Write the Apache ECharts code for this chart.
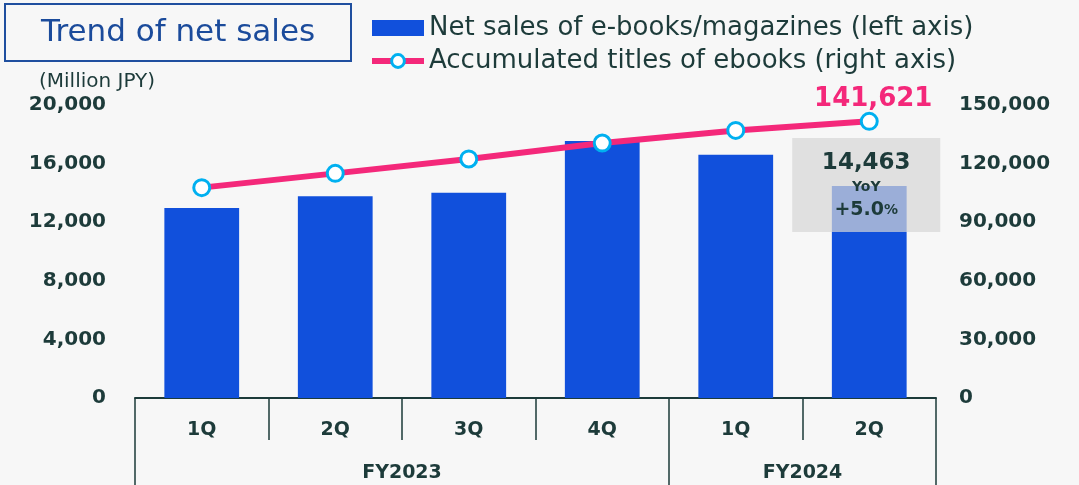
<!DOCTYPE html>
<html>
<head>
<meta charset="utf-8">
<script src="https://cdn.jsdelivr.net/npm/echarts@6/dist/echarts.min.js"></script>
<style>
  html, body { margin: 0; padding: 0; background: #f7f7f7; }
  #main { width: 1079px; height: 485px; }
</style>
</head>
<body>
<div id="main"></div>
<script>
const quarters = ['1Q', '2Q', '3Q', '4Q', '1Q', '2Q'];
const fiscalYears = ['FY2023', 'FY2024'];
const fyQuarterCounts = [4, 2];
const netSales = [12970, 13770, 14010, 17540, 16610, 14463];
const accumulatedTitles = [107700, 115000, 122400, 130500, 137000, 141621];
const yoyLabel = '+5.0';

const dark = '#1d3b3a';
const pink = '#f4287a';
const fontFamily = 'DejaVu Sans';
const fmt = v => Number(v).toLocaleString('en-US');

// second-level axis: half-slot points, label at group centers, ticks at group edges
const fyData = new Array(quarters.length * 2 + 1).fill('');
const fyTicks = [0];
let pos = 0;
fiscalYears.forEach((fy, i) => {
  fyData[pos * 2 + fyQuarterCounts[i]] = fy;
  pos += fyQuarterCounts[i];
  fyTicks.push(pos * 2);
});

const last = netSales.length - 1;
const barData = netSales.map((v, i) => i !== last ? v : {
  value: v,
  label: {
    show: true,
    position: 'top',
    distance: 0,
    offset: [-3, 46],
    width: 148,
    padding: [11, 0, 9, 0],
    align: 'center',
    backgroundColor: 'rgba(214,214,214,0.7)',
    formatter: p => '{a|' + fmt(p.value) + '}\n{b|YoY}\n{c|' + yoyLabel + '}{d|%}',
    rich: {
      a: { fontFamily, fontWeight: 'bold', fontSize: 23, color: dark, lineHeight: 28, align: 'center' },
      b: { fontFamily, fontWeight: 'bold', fontSize: 14, color: dark, lineHeight: 20, align: 'center' },
      c: { fontFamily, fontWeight: 'bold', fontSize: 19, color: dark, lineHeight: 26 },
      d: { fontFamily, fontWeight: 'bold', fontSize: 14, color: dark, lineHeight: 26 }
    }
  }
});

const lineData = accumulatedTitles.map((v, i) => i !== last ? v : {
  value: v,
  label: {
    show: true,
    position: 'top',
    distance: 0,
    offset: [4, 0],
    formatter: p => fmt(p.value),
    fontFamily, fontWeight: 'bold', fontSize: 26, color: pink
  }
});

const chart = echarts.init(document.getElementById('main'));
chart.setOption({
  backgroundColor: '#f7f7f7',
  animation: false,
  title: {
    text: 'Trend of net sales',
    left: 5,
    top: 4,
    padding: [13, 36, 13, 36],
    borderColor: '#1f4f9f',
    borderWidth: 2,
    textStyle: { fontFamily, fontWeight: 'normal', fontSize: 31, color: '#1b4b9b' }
  },
  legend: {
    orient: 'vertical',
    left: 369,
    top: 15,
    padding: 0,
    itemWidth: 52,
    itemHeight: 16,
    itemGap: 7,
    textStyle: { fontFamily, fontSize: 26, color: dark },
    data: [
      { name: 'Net sales of e-books/magazines (left axis)', icon: 'rect' },
      {
        name: 'Accumulated titles of ebooks (right axis)',
        lineStyle: { width: 6, color: pink },
        itemStyle: { color: '#ffffff', borderColor: '#00b0f0', borderWidth: 3 }
      }
    ]
  },
  grid: { left: 135, right: 143, top: 105, bottom: 87 },
  xAxis: [
    {
      type: 'category',
      data: quarters,
      position: 'bottom',
      axisLine: { onZero: false, lineStyle: { color: dark, width: 2 } },
      axisTick: { show: true, length: 42, lineStyle: { color: dark, width: 1.5 } },
      axisLabel: { margin: 23, fontFamily, fontWeight: 'bold', fontSize: 19, color: dark, interval: 0 }
    },
    {
      type: 'category',
      data: fyData,
      position: 'bottom',
      boundaryGap: false,
      axisLine: { show: false, onZero: false },
      axisTick: {
        show: true, length: 95,
        interval: idx => fyTicks.includes(idx),
        lineStyle: { color: dark, width: 1.5 }
      },
      axisLabel: {
        margin: 66, fontFamily, fontWeight: 'bold', fontSize: 19, color: dark,
        interval: idx => fyData[idx] !== ''
      }
    }
  ],
  yAxis: [
    {
      type: 'value',
      min: 0, max: 20000, interval: 4000,
      name: '(Million JPY)',
      nameLocation: 'end',
      nameGap: 13,
      nameTextStyle: { fontFamily, fontSize: 20, color: dark, align: 'center', padding: [0, 76, 0, 0] },
      splitLine: { show: false },
      axisLine: { show: false },
      axisTick: { show: false },
      axisLabel: { margin: 29, fontFamily, fontWeight: 'bold', fontSize: 20, color: dark, formatter: fmt }
    },
    {
      type: 'value',
      min: 0, max: 150000, interval: 30000,
      position: 'right',
      splitLine: { show: false },
      axisLine: { show: false },
      axisTick: { show: false },
      axisLabel: { margin: 23, fontFamily, fontWeight: 'bold', fontSize: 20, color: dark, formatter: fmt }
    }
  ],
  series: [
    {
      name: 'Net sales of e-books/magazines (left axis)',
      type: 'bar',
      xAxisIndex: 0,
      yAxisIndex: 0,
      barWidth: '56%',
      itemStyle: { color: '#1150dc' },
      data: barData
    },
    {
      name: 'Accumulated titles of ebooks (right axis)',
      type: 'line',
      xAxisIndex: 0,
      yAxisIndex: 1,
      symbol: 'circle',
      symbolSize: 16,
      lineStyle: { color: pink, width: 6 },
      itemStyle: { color: '#ffffff', borderColor: '#00b0f0', borderWidth: 3 },
      z: 3,
      data: lineData
    }
  ]
});
</script>
</body>
</html>
